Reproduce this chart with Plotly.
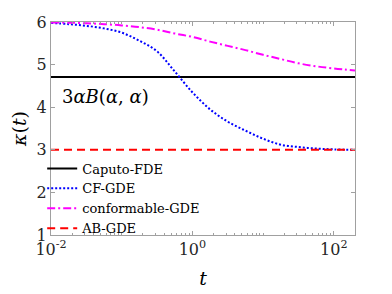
import numpy as np
import plotly.graph_objects as go

# ---- data ----
log_t = [-2, -1.75, -1.5, -1.25, -1.0, -0.75, -0.5, -0.25, 0.0, 0.25, 0.5,
         0.75, 1.0, 1.25, 1.5, 1.75, 2.0, 2.3]
t_vals = [10 ** v for v in log_t]

caputo_fde = 4.71
ab_gde = 3.0
cf_gde = [5.98, 5.95, 5.91, 5.85, 5.75, 5.56, 5.31, 4.84, 4.35, 3.95, 3.66,
          3.45, 3.26, 3.12, 3.065, 3.03, 3.01, 3.0]
conformable_gde = [5.99, 5.985, 5.97, 5.95, 5.92, 5.88, 5.82, 5.73, 5.65, 5.54,
                   5.44, 5.34, 5.23, 5.13, 5.03, 4.96, 4.91, 4.86]

x_tickvals = [1e-2, 1e0, 1e2]
x_ticktext = ["10<sup>-2</sup>", "10<sup>0</sup>", "10<sup>2</sup>"]
y_tickvals = [1, 2, 3, 4, 5, 6]
minor_x = [m * 10 ** k for k in range(-2, 3) for m in range(1, 10)
           if m * 10 ** k <= 200 and m * 10 ** k not in x_tickvals]

FONT = "DejaVu Serif"
AXC = "#a0a0a0"

fig = go.Figure()
fig.add_trace(go.Scatter(x=[t_vals[0], t_vals[-1]], y=[caputo_fde, caputo_fde],
                         mode="lines", name="Caputo-FDE",
                         line=dict(color="black", width=2)))
fig.add_trace(go.Scatter(x=t_vals, y=cf_gde, mode="lines", name="CF-GDE",
                         line=dict(color="#0000ff", width=2, dash="2px,2px",
                                   shape="spline")))
fig.add_trace(go.Scatter(x=t_vals, y=conformable_gde, mode="lines",
                         name="conformable-GDE",
                         line=dict(color="#ff00ff", width=2,
                                   dash="8px,3px,2px,3px", shape="spline")))
fig.add_trace(go.Scatter(x=[t_vals[0], t_vals[-1]], y=[ab_gde, ab_gde],
                         mode="lines", name="AB-GDE",
                         line=dict(color="#ff0000", width=2, dash="8px,5px")))

fig.add_annotation(xref="paper", x=0.03, yref="y", y=4.25,
                   text="3<i>αB</i>(<i>α</i>, <i>α</i>)", showarrow=False,
                   xanchor="left", yanchor="middle",
                   font=dict(family=FONT, size=18, color="black"))

fig.update_layout(
    width=384, height=286,
    margin=dict(l=43, r=37, t=14, b=59, autoexpand=False),
    paper_bgcolor="white", plot_bgcolor="white",
    font=dict(family=FONT, size=15, color="#262626"),
    showlegend=True,
    legend=dict(x=-0.029, y=-0.04, xanchor="left", yanchor="bottom",
                bgcolor="rgba(0,0,0,0)", font=dict(family=FONT, size=13,
                                                   color="black"),
                tracegroupgap=0, itemwidth=30),
    xaxis=dict(type="log", range=[-2, 2.3], tickvals=x_tickvals,
               ticktext=x_ticktext, ticks="inside", ticklen=4,
               tickcolor=AXC, showline=True, linecolor=AXC, linewidth=1,
               mirror="ticks", showgrid=False, zeroline=False,
               automargin=False,
               tickfont=dict(family=FONT, size=16, color="#262626"),
               minor=dict(tickvals=minor_x, ticks="inside", ticklen=2,
                          tickcolor=AXC, showgrid=False),
               title=dict(text="<i>t</i>", font=dict(family=FONT, size=19,
                                                     color="black"),
                          standoff=13)),
    yaxis=dict(range=[1, 6], tickvals=y_tickvals, ticks="inside", ticklen=4,
               tickcolor=AXC, showline=True, linecolor=AXC, linewidth=1,
               mirror="ticks", showgrid=False, zeroline=False,
               automargin=False,
               tickfont=dict(family=FONT, size=16, color="#262626"),
               title=dict(text="<i>κ</i>(<i>t</i>)",
                          font=dict(family=FONT, size=19, color="black"),
                          standoff=6)),
)

fig.write_html("out.html")
